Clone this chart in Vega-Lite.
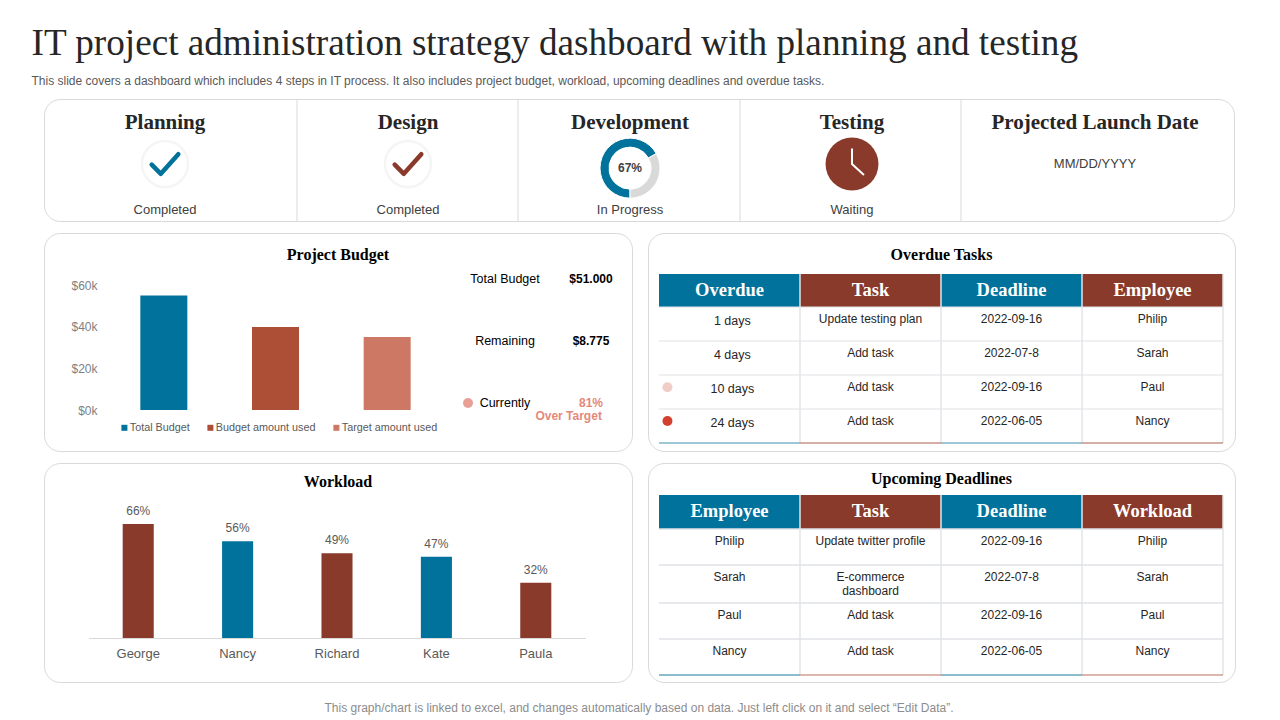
{
"$schema":"https://vega.github.io/schema/vega-lite/v6.json",
"background":"white",
"padding":{"left":31,"top":24,"right":0,"bottom":0},
"config":{"font":"Liberation Sans","view":{"stroke":null},"axis":{"grid":false}},
"title":{"text":"IT project administration strategy dashboard with planning and testing","subtitle":"This slide covers a dashboard which includes 4 steps in IT process. It also includes project budget, workload, upcoming deadlines and overdue tasks.","anchor":"start","dx":-12,"font":"Liberation Serif","fontSize":37.2,"fontWeight":"normal","color":"#262626","subtitleFont":"Liberation Sans","subtitleFontSize":12,"subtitleColor":"#595959","subtitlePadding":13,"offset":10},
"spacing":10,
"resolve":{"scale":{"color":"independent"},"legend":{"color":"independent"}},
"vconcat":[
{"width":1190,"height":122,"view":{"stroke":"#d9d9d9","cornerRadius":16,"fill":"white"},
 "encoding":{
  "x":{"field":"step","type":"quantitative","axis":null,"scale":{"nice":false,"zero":false,"domain":[0.5,1,1.5,2,2.5,3,3.5,4,4.5,5,5.5],"range":[0,121,253,364,474,586,696,808,917,1051,1190]}},
  "y":{"field":"row","type":"quantitative","axis":null,"scale":{"nice":false,"zero":false,"domain":[0,1,2,3,4],"range":[0,24,65,111,122]}}},
 "layer":[
  {"data":{"values":[{"step":1.5,"row":0,"rowEnd":4},{"step":2.5,"row":0,"rowEnd":4},{"step":3.5,"row":0,"rowEnd":4},{"step":4.5,"row":0,"rowEnd":4}]},
   "mark":{"type":"rule","color":"#d9d9d9","strokeWidth":1},"encoding":{"y2":{"field":"rowEnd"}}},
  {"data":{"values":[{"step":1,"row":1,"t":"Planning"},{"step":2,"row":1,"t":"Design"},{"step":3,"row":1,"t":"Development"},{"step":4,"row":1,"t":"Testing"},{"step":5,"row":1,"t":"Projected Launch Date"}]},
   "mark":{"type":"text","font":"Liberation Serif","fontWeight":"bold","fontSize":21,"color":"#262626"},"encoding":{"text":{"field":"t"}}},
  {"data":{"values":[{"step":1,"row":3,"t":"Completed"},{"step":2,"row":3,"t":"Completed"},{"step":3,"row":3,"t":"In Progress"},{"step":4,"row":3,"t":"Waiting"},{"step":5,"row":2,"t":"MM/DD/YYYY"}]},
   "mark":{"type":"text","fontSize":13,"color":"#404040"},"encoding":{"text":{"field":"t"}}},
  {"data":{"values":[{"step":1,"row":2},{"step":2,"row":2}]},
   "mark":{"type":"point","shape":"circle","filled":false,"size":2116,"stroke":"#f2f2f2","strokeWidth":2.5}},
  {"data":{"values":[{"step":1,"row":2,"stage":"Planning"},{"step":2,"row":2,"stage":"Design"}]},
   "mark":{"type":"point","filled":false,"size":784,"strokeWidth":4.5,"strokeCap":"round","strokeJoin":"round","opacity":1,"shape":"M -0.95 0.05 L -0.3 0.7 L 0.95 -0.7"},
   "encoding":{"stroke":{"condition":{"test":"datum.stage==='Planning'","value":"#00729b"},"value":"#893a2b"}}},
  {"data":{"values":[{"step":3,"row":2.09,"part":"a-done","v":67},{"step":3,"row":2.09,"part":"b-rest","v":33}]},
   "mark":{"type":"arc","radius":30,"radius2":21,"stroke":"white","strokeWidth":1},
   "encoding":{"theta":{"field":"v","type":"quantitative","stack":true,"scale":{"domain":[0,100],"range":[3.14159,9.42478]}},"order":{"field":"part"},"fill":{"condition":{"test":"datum.part==='a-done'","value":"#00729b"},"value":"#d9d9d9"}}},
  {"data":{"values":[{"step":3,"row":2.09,"t":"67%"}]},
   "mark":{"type":"text","fontSize":12,"fontWeight":"bold","color":"#404040"},"encoding":{"text":{"field":"t"}}},
  {"data":{"values":[{"step":4,"row":2}]},
   "mark":{"type":"point","shape":"circle","filled":true,"size":2800,"color":"#893a2b","opacity":1}},
  {"data":{"values":[{"step":4,"row":2}]},
   "mark":{"type":"point","filled":false,"size":2704,"stroke":"white","strokeWidth":2,"opacity":1,"shape":"M 0 -0.6 L 0 0 L 0.46 0.42"}}
 ]},
{"spacing":14,"resolve":{"scale":{"color":"independent"},"legend":{"color":"independent"}},"hconcat":[
 {"width":588,"height":218,"view":{"stroke":"#d9d9d9","cornerRadius":16,"fill":"white"},
  "title":{"text":"Project Budget","font":"Liberation Serif","fontWeight":"bold","fontSize":16,"color":"#000000","anchor":"middle","baseline":"middle","offset":-38},
  "resolve":{"scale":{"x":"independent","y":"independent"}},
  "layer":[
   {"data":{"values":[{"item":"Total Budget","amount":55000},{"item":"Budget amount used","amount":39800},{"item":"Target amount used","amount":35000}]},
    "mark":{"type":"bar","width":47},
    "encoding":{
     "x":{"field":"item","type":"nominal","axis":null,"scale":{"domain":["Total Budget","Budget amount used","Target amount used"],"range":[64,399]}},
     "y":{"field":"amount","type":"quantitative","scale":{"domain":[0,60000],"range":[177,52],"nice":false},"axis":{"values":[0,20000,40000,60000],"labelExpr":"'$'+datum.value/1000+'k'","title":null,"domain":false,"ticks":false,"offset":-56,"labelPadding":3,"labelFontSize":12,"labelColor":"#7f7f7f"}},
     "color":{"field":"item","type":"nominal","scale":{"domain":["Total Budget","Budget amount used","Target amount used"],"range":["#00729b","#ad4f37","#cc7864"]},"legend":{"title":null,"orient":"none","direction":"horizontal","legendX":75,"legendY":189,"symbolType":"square","symbolSize":36,"labelFontSize":10.8,"labelColor":"#595959","labelOffset":0,"columnPadding":15,"columns":3}}}},
   {"encoding":{
     "x":{"field":"col","type":"quantitative","axis":null,"scale":{"nice":false,"zero":false,"domain":[0,1,2],"range":[424,461,547]}},
     "y":{"field":"row","type":"quantitative","axis":null,"scale":{"nice":false,"zero":false,"domain":[1,3],"range":[46,170]}}},
    "layer":[
     {"data":{"values":[{"col":1,"row":1,"t":"Total Budget"},{"col":1,"row":2,"t":"Remaining"},{"col":1,"row":3,"t":"Currently"}]},
      "mark":{"type":"text","fontSize":12.5,"color":"#000000"},"encoding":{"text":{"field":"t"}}},
     {"data":{"values":[{"col":2,"row":1,"t":"$51.000"},{"col":2,"row":2,"t":"$8.775"}]},
      "mark":{"type":"text","fontSize":12,"fontWeight":"bold","color":"#000000"},"encoding":{"text":{"field":"t"}}},
     {"data":{"values":[{"col":2,"row":3,"t":"81%"},{"col":1.74,"row":3.21,"t":"Over Target"}]},
      "mark":{"type":"text","fontSize":12,"fontWeight":"bold","color":"#e3897c"},"encoding":{"text":{"field":"t"}}},
     {"data":{"values":[{"col":0,"row":3}]},
      "mark":{"type":"point","shape":"circle","filled":true,"size":100,"color":"#e8a096","opacity":1}}
    ]}
  ]},
 {"width":587,"height":218,"view":{"stroke":"#d9d9d9","cornerRadius":16,"fill":"white"},
  "title":{"text":"Overdue Tasks","font":"Liberation Serif","fontWeight":"bold","fontSize":16,"color":"#000000","anchor":"middle","baseline":"middle","offset":-38},
  "encoding":{
   "x":{"field":"col","type":"quantitative","axis":null,"scale":{"nice":false,"zero":false,"domain":[0,4],"range":[11,575]}},
   "y":{"field":"row","type":"quantitative","axis":null,"scale":{"nice":false,"zero":false,"domain":[0,0.5,1,1.5,2,2.5,3,3.5,4,4.5,5],"range":[41,57,74,87,108,121,142,155,176,189,210]}}},
  "layer":[
   {"data":{"values":[{"col":0,"colEnd":1,"row":0,"rowEnd":1},{"col":1,"colEnd":2,"row":0,"rowEnd":1},{"col":2,"colEnd":3,"row":0,"rowEnd":1},{"col":3,"colEnd":4,"row":0,"rowEnd":1}]},
    "mark":{"type":"rect"},"encoding":{"x2":{"field":"colEnd"},"y2":{"field":"rowEnd"},"fill":{"condition":{"test":"datum.col%2==0","value":"#00729b"},"value":"#893a2b"}}},
   {"data":{"values":[{"col":0,"colEnd":4,"row":1},{"col":0,"colEnd":4,"row":2},{"col":0,"colEnd":4,"row":3},{"col":0,"colEnd":4,"row":4}]},
    "mark":{"type":"rule","color":"#dfe2e6","strokeWidth":1.2},"encoding":{"x2":{"field":"colEnd"}}},
   {"data":{"values":[{"col":1,"row":0,"rowEnd":5},{"col":2,"row":0,"rowEnd":5},{"col":3,"row":0,"rowEnd":5},{"col":4,"row":0,"rowEnd":5}]},
    "mark":{"type":"rule","color":"#e2e5e9","strokeWidth":1.5},"encoding":{"y2":{"field":"rowEnd"}}},
   {"data":{"values":[{"col":0,"colEnd":1,"row":5},{"col":1,"colEnd":2,"row":5},{"col":2,"colEnd":3,"row":5},{"col":3,"colEnd":4,"row":5}]},
    "mark":{"type":"rule","strokeWidth":1.2},"encoding":{"x2":{"field":"colEnd"},"color":{"condition":{"test":"datum.col%2==0","value":"#3f8fb0"},"value":"#a8604f"}}},
   {"data":{"values":[{"col":0.5,"row":0.5,"t":"Overdue"},{"col":1.5,"row":0.5,"t":"Task"},{"col":2.5,"row":0.5,"t":"Deadline"},{"col":3.5,"row":0.5,"t":"Employee"}]},
    "mark":{"type":"text","font":"Liberation Serif","fontWeight":"bold","fontSize":18.5,"color":"white"},"encoding":{"text":{"field":"t"}}},
   {"data":{"values":[{"col":0.52,"row":1.5,"t":"1 days"},{"col":0.52,"row":2.5,"t":"4 days"},{"col":0.52,"row":3.5,"t":"10 days"},{"col":0.52,"row":4.5,"t":"24 days"}]},
    "mark":{"type":"text","fontSize":12.5,"color":"#262626","dy":1},"encoding":{"text":{"field":"t"}}},
   {"data":{"values":[{"col":1.5,"row":1.5,"t":"Update testing plan"},{"col":2.5,"row":1.5,"t":"2022-09-16"},{"col":3.5,"row":1.5,"t":"Philip"},{"col":1.5,"row":2.5,"t":"Add task"},{"col":2.5,"row":2.5,"t":"2022-07-8"},{"col":3.5,"row":2.5,"t":"Sarah"},{"col":1.5,"row":3.5,"t":"Add task"},{"col":2.5,"row":3.5,"t":"2022-09-16"},{"col":3.5,"row":3.5,"t":"Paul"},{"col":1.5,"row":4.5,"t":"Add task"},{"col":2.5,"row":4.5,"t":"2022-06-05"},{"col":3.5,"row":4.5,"t":"Nancy"}]},
    "mark":{"type":"text","fontSize":12,"color":"#262626","dy":-1},"encoding":{"text":{"field":"t"}}},
   {"data":{"values":[{"col":0.06,"row":3.47,"state":"near"},{"col":0.06,"row":4.46,"state":"late"}]},
    "mark":{"type":"point","shape":"circle","filled":true,"size":100,"opacity":1},"encoding":{"color":{"condition":{"test":"datum.state==='late'","value":"#d4402f"},"value":"#f1cdc7"}}}
  ]}
]},
{"spacing":14,"resolve":{"scale":{"color":"independent"},"legend":{"color":"independent"}},"hconcat":[
 {"width":588,"height":219,"view":{"stroke":"#d9d9d9","cornerRadius":16,"fill":"white"},
  "title":{"text":"Workload","font":"Liberation Serif","fontWeight":"bold","fontSize":16,"color":"#000000","anchor":"middle","baseline":"middle","offset":-35},
  "data":{"values":[{"name":"George","load":0.66},{"name":"Nancy","load":0.56},{"name":"Richard","load":0.49},{"name":"Kate","load":0.47},{"name":"Paula","load":0.32}]},
  "encoding":{
   "x":{"field":"name","type":"nominal","sort":null,"scale":{"range":[44.5,541.5],"paddingInner":0.6875,"paddingOuter":0.344},"axis":{"title":null,"labelAngle":0,"ticks":false,"domainColor":"#d9d9d9","offset":-44,"labelPadding":9,"labelFontSize":13,"labelColor":"#595959"}},
   "y":{"field":"load","type":"quantitative","axis":null,"scale":{"domain":[0,0.66],"range":[175,61],"nice":false}}},
  "layer":[
   {"mark":{"type":"bar"},"encoding":{"color":{"condition":{"test":"datum.name==='Nancy'||datum.name==='Kate'","value":"#00729b"},"value":"#893a2b"}}},
   {"mark":{"type":"text","fontSize":12,"color":"#595959","baseline":"bottom","dy":-6},"encoding":{"text":{"field":"load","format":".0%"}}}
  ]},
 {"width":587,"height":219,"view":{"stroke":"#d9d9d9","cornerRadius":16,"fill":"white"},
  "title":{"text":"Upcoming Deadlines","font":"Liberation Serif","fontWeight":"bold","fontSize":16,"color":"#000000","anchor":"middle","baseline":"middle","offset":-32},
  "encoding":{
   "x":{"field":"col","type":"quantitative","axis":null,"scale":{"nice":false,"zero":false,"domain":[0,4],"range":[11,575]}},
   "y":{"field":"row","type":"quantitative","axis":null,"scale":{"nice":false,"zero":false,"domain":[0,0.5,1,1.5,2,2.5,3,3.5,4,4.5,5],"range":[32,48,66,78,102,114,140,152,176,188,212]}}},
  "layer":[
   {"data":{"values":[{"col":0,"colEnd":1,"row":0,"rowEnd":1},{"col":1,"colEnd":2,"row":0,"rowEnd":1},{"col":2,"colEnd":3,"row":0,"rowEnd":1},{"col":3,"colEnd":4,"row":0,"rowEnd":1}]},
    "mark":{"type":"rect"},"encoding":{"x2":{"field":"colEnd"},"y2":{"field":"rowEnd"},"fill":{"condition":{"test":"datum.col%2==0","value":"#00729b"},"value":"#893a2b"}}},
   {"data":{"values":[{"col":0,"colEnd":4,"row":1},{"col":0,"colEnd":4,"row":2},{"col":0,"colEnd":4,"row":3},{"col":0,"colEnd":4,"row":4}]},
    "mark":{"type":"rule","color":"#dfe2e6","strokeWidth":1.5},"encoding":{"x2":{"field":"colEnd"}}},
   {"data":{"values":[{"col":1,"row":0,"rowEnd":5},{"col":2,"row":0,"rowEnd":5},{"col":3,"row":0,"rowEnd":5},{"col":4,"row":0,"rowEnd":5}]},
    "mark":{"type":"rule","color":"#e2e5e9","strokeWidth":1.5},"encoding":{"y2":{"field":"rowEnd"}}},
   {"data":{"values":[{"col":0,"colEnd":1,"row":5},{"col":1,"colEnd":2,"row":5},{"col":2,"colEnd":3,"row":5},{"col":3,"colEnd":4,"row":5}]},
    "mark":{"type":"rule","strokeWidth":1.2},"encoding":{"x2":{"field":"colEnd"},"color":{"condition":{"test":"datum.col%2==0","value":"#1b7c9f"},"value":"#b8705f"}}},
   {"data":{"values":[{"col":0.5,"row":0.5,"t":"Employee"},{"col":1.5,"row":0.5,"t":"Task"},{"col":2.5,"row":0.5,"t":"Deadline"},{"col":3.5,"row":0.5,"t":"Workload"}]},
    "mark":{"type":"text","font":"Liberation Serif","fontWeight":"bold","fontSize":18.5,"color":"white"},"encoding":{"text":{"field":"t"}}},
   {"data":{"values":[{"col":0.5,"row":1.5,"t":"Philip"},{"col":1.5,"row":1.5,"t":"Update twitter profile"},{"col":2.5,"row":1.5,"t":"2022-09-16"},{"col":3.5,"row":1.5,"t":"Philip"},{"col":0.5,"row":2.5,"t":"Sarah"},{"col":1.5,"row":2.5,"t":"E-commerce\ndashboard"},{"col":2.5,"row":2.5,"t":"2022-07-8"},{"col":3.5,"row":2.5,"t":"Sarah"},{"col":0.5,"row":3.5,"t":"Paul"},{"col":1.5,"row":3.5,"t":"Add task"},{"col":2.5,"row":3.5,"t":"2022-09-16"},{"col":3.5,"row":3.5,"t":"Paul"},{"col":0.5,"row":4.5,"t":"Nancy"},{"col":1.5,"row":4.5,"t":"Add task"},{"col":2.5,"row":4.5,"t":"2022-06-05"},{"col":3.5,"row":4.5,"t":"Nancy"}]},
    "mark":{"type":"text","fontSize":12,"color":"#262626","baseline":"top","dy":-5,"lineBreak":"\n","lineHeight":14},"encoding":{"text":{"field":"t"}}}
  ]}
]},
{"width":1190,"height":30,
 "data":{"values":[{"t":"This graph/chart is linked to excel, and changes automatically based on data. Just left click on it and select “Edit Data”."}]},
 "mark":{"type":"text","fontSize":12,"color":"#8c8c8c"},
 "encoding":{"text":{"field":"t"}}}
]}
